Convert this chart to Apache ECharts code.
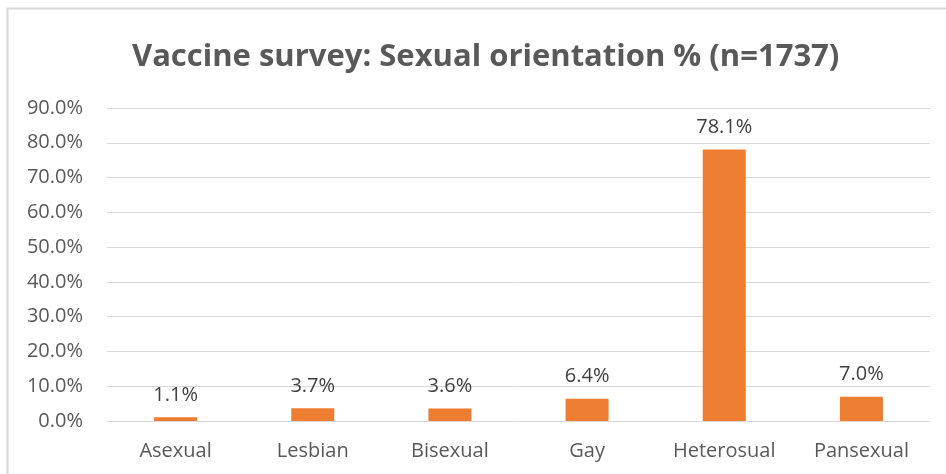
<!DOCTYPE html>
<html>
<head>
<meta charset="utf-8">
<script src="https://cdn.jsdelivr.net/npm/echarts@6/dist/echarts.min.js"></script>
<style>
  html, body { margin: 0; padding: 0; background: #fff; }
  #chart { width: 946px; height: 474px; }
</style>
</head>
<body>
<div id="chart"></div>
<script>
// Survey breakdown by sexual orientation (share of respondents, %)
const categories = ['Asexual', 'Lesbian', 'Bisexual', 'Gay', 'Heterosual', 'Pansexual'];
const shares = [1.1, 3.7, 3.6, 6.4, 78.1, 7.0];
const titleText = 'Vaccine survey: Sexual orientation % (n=1737)';

const chart = echarts.init(document.getElementById('chart'), null, { renderer: 'canvas' });
const textColor = '#595959';
const font = 'Open Sans';

chart.setOption({
  animation: false,
  backgroundColor: '#ffffff',
  title: {
    text: titleText,
    left: 127,
    top: 37,
    textStyle: { fontFamily: font, fontSize: 31, fontWeight: 'bold', color: textColor }
  },
  graphic: [
    { type: 'polyline', silent: true, shape: { points: [[7.5, 474], [7.5, 8.5], [946, 8.5]] },
      style: { stroke: '#d9d9d9', lineWidth: 2, fill: null } }
  ],
  grid: { left: 107, right: 16, top: 108, bottom: 53, containLabel: false },
  xAxis: {
    type: 'category',
    data: categories,
    axisLine: { show: true, lineStyle: { color: '#d9d9d9', width: 1 } },
    axisTick: { show: false },
    axisLabel: { color: textColor, fontFamily: font, fontSize: 20, margin: 20 }
  },
  yAxis: {
    type: 'value',
    min: 0,
    max: 90,
    interval: 10,
    axisLine: { show: false },
    axisTick: { show: false },
    splitLine: { lineStyle: { color: '#d9d9d9', width: 1 } },
    axisLabel: {
      color: textColor, fontFamily: font, fontSize: 20, margin: 24,
      formatter: v => v.toFixed(1) + '%'
    }
  },
  series: [{
    type: 'bar',
    data: shares,
    barWidth: 43,
    itemStyle: { color: '#ED7D31' },
    label: {
      show: true,
      position: 'top',
      distance: 12,
      color: '#404040',
      fontFamily: font,
      fontSize: 20,
      formatter: p => p.value.toFixed(1) + '%'
    }
  }]
});
</script>
</body>
</html>
